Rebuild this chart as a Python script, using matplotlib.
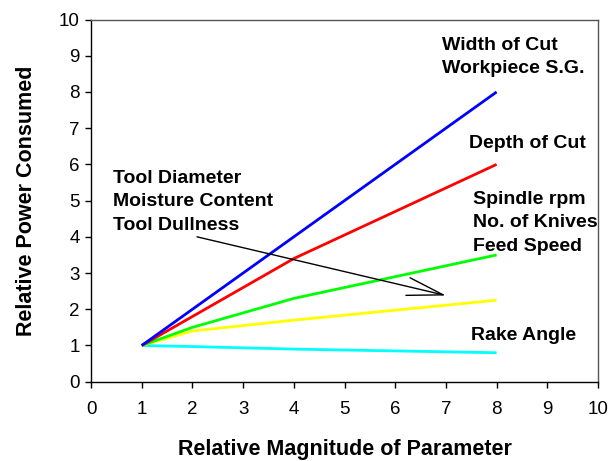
import matplotlib
matplotlib.use("Agg")
import matplotlib.pyplot as plt

plt.rcParams['font.family'] = ['Liberation Sans', 'DejaVu Sans']

x_pts = [1, 2, 4, 8]
width_cut = [1, 2, 4, 8]
depth_cut = [1, 1.8, 3.4, 6]
spindle = [1, 1.5, 2.3, 3.5]
tool_diam = [1, 1.4, 1.7, 2.25]
rake = [1, 0.97, 0.9, 0.8]

series = [
    (width_cut, '#0000ff'),
    (depth_cut, '#ff0000'),
    (spindle, '#00ff00'),
    (tool_diam, '#ffff00'),
    (rake, '#00ffff'),
]

xticks = list(range(0, 11))
yticks = list(range(0, 11))

fig = plt.figure(figsize=(6.08, 4.61), dpi=100)
ax = fig.add_axes([0.1497, 0.172, 0.8339, 0.7857])

for vals, col in series[::-1]:
    ax.plot(x_pts, vals, color=col, lw=2, solid_capstyle='butt')

ax.set_xlim(0, 10)
ax.set_ylim(0, 10)
ax.set_xticks(xticks)
ax.set_yticks(yticks)
ax.tick_params(direction='out', length=4, width=1, labelsize=13.5)
ax.tick_params(axis='x', pad=10)
ax.tick_params(axis='y', pad=4)
for s in ['left', 'bottom']:
    ax.spines[s].set_color('black')
    ax.spines[s].set_linewidth(1)
for s in ['top', 'right']:
    ax.spines[s].set_color('#555555')
    ax.spines[s].set_linewidth(1)

ax.set_xlabel('Relative Magnitude of Parameter', fontsize=15.5, fontweight='bold', labelpad=15)
ax.set_ylabel('Relative Power Consumed', fontsize=15.5, fontweight='bold', labelpad=16)

tkw = dict(fontsize=14, fontweight='bold', va='top', ha='left', linespacing=1.48)
ax.text(6.92, 9.52, 'Width of Cut\nWorkpiece S.G.', **tkw)
ax.text(7.46, 6.82, 'Depth of Cut', **tkw)
ax.text(7.53, 5.26, 'Spindle rpm\nNo. of Knives\nFeed Speed', **tkw)
ax.text(0.43, 5.84, 'Tool Diameter\nMoisture Content\nTool Dullness', **tkw)
ax.text(7.49, 1.50, 'Rake Angle', **tkw)

ax.annotate('', xy=(7.0, 2.38), xytext=(2.09, 4.0),
            arrowprops=dict(arrowstyle='->,head_length=2.6,head_width=0.65',
                            mutation_scale=10, color='black', lw=1,
                            shrinkA=0, shrinkB=0))

fig.savefig('out.png', dpi=100)
